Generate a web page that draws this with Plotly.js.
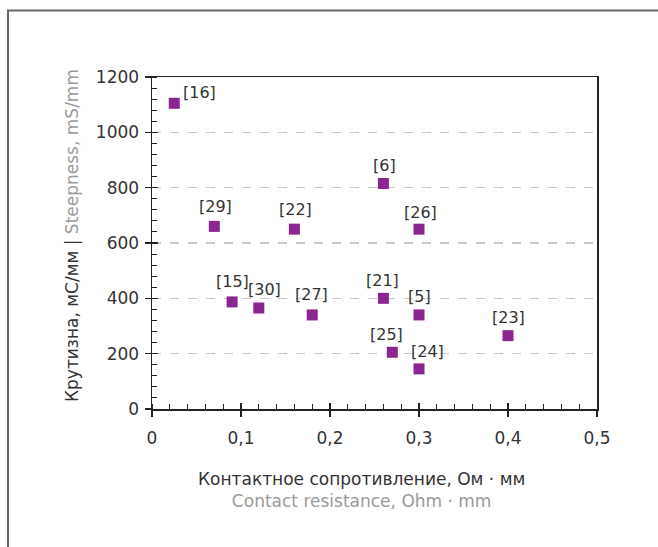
<!DOCTYPE html>
<html>
<head>
<meta charset="utf-8">
<script src="https://cdn.plot.ly/plotly-3.0.1.min.js"></script>
<style>html,body{margin:0;padding:0;background:#fff;}#chart{width:658px;height:547px;}</style>
</head>
<body>
<div id="chart"></div>
<script>
// Data
const refLabels = ['[16]','[29]','[22]','[6]','[26]','[15]','[30]','[27]','[21]','[5]','[25]','[24]','[23]'];
const resistance = [0.025,0.07,0.16,0.26,0.30,0.09,0.12,0.18,0.26,0.30,0.27,0.30,0.40];
const steepness  = [1105,660,650,815,650,387,365,340,400,340,205,145,265];
const xTickVals = [0,0.1,0.2,0.3,0.4,0.5];
const xTickText = ['0','0,1','0,2','0,3','0,4','0,5'];

// Label placement (style)
const labelShift = {
  '[16]':[25,11],'[29]':[1,20],'[22]':[1,20],'[6]':[1,18],'[26]':[1,17],
  '[15]':[0,20],'[30]':[6,19],'[27]':[-1,20],'[21]':[-1,18],'[5]':[0,18],
  '[25]':[-6,18],'[24]':[8,17],'[23]':[0,18]
};

const FONT = 'DejaVu Sans, sans-serif';
const DARK = '#333333';
const GREY = '#9a9a9a';

const L=152, R=61, T=77, B=138, W=658, H=547;
const pw=W-L-R, ph=H-T-B;
const px = v => (v-L)/pw;
const py = v => (H-B-v)/ph;

const annotations = refLabels.map((t,i)=>({
  x: resistance[i], y: steepness[i], xref:'x', yref:'y', text:t, showarrow:false,
  xshift: labelShift[t][0], yshift: labelShift[t][1],
  font:{family:FONT, size:16, color:DARK}
}));
annotations.push({
  xref:'paper', yref:'paper', x:px(361), y:py(490), xanchor:'center', yanchor:'middle', showarrow:false,
  text:'Контактное сопротивление, Ом · мм<br><span style="color:'+GREY+'">Contact resistance, Ohm · mm</span>',
  font:{family:FONT, size:17, color:DARK}, align:'center'
});
annotations.push({
  xref:'paper', yref:'paper', x:px(72), y:py(236), xanchor:'center', yanchor:'middle', showarrow:false, textangle:-90,
  text:'Крутизна, мС/мм | <span style="color:'+GREY+'">Steepness, mS/mm</span>',
  font:{family:FONT, size:17, color:DARK}
});

const trace = {
  x: resistance, y: steepness, type:'scatter', mode:'markers',
  marker:{symbol:'square', size:11, color:'#8b2590'},
  hoverinfo:'none'
};
// invisible helper traces so the inner-tick overlay axes are drawn
const helperX = {x:[0], y:[0], xaxis:'x2', yaxis:'y', type:'scatter', mode:'none', hoverinfo:'none'};
const helperY = {x:[0], y:[0], xaxis:'x', yaxis:'y2', type:'scatter', mode:'none', hoverinfo:'none'};

const axLine = {showline:true, linecolor:'#222', linewidth:1.5, zeroline:false, fixedrange:true};

const layout = {
  width:W, height:H, margin:{l:L,r:R,t:T,b:B}, showlegend:false,
  paper_bgcolor:'#fff', plot_bgcolor:'#fff', separators:', ',
  font:{family:FONT, color:DARK, size:16},
  xaxis:Object.assign({range:[0,0.5], tickvals:xTickVals, ticktext:xTickText, showgrid:false, mirror:true,
    ticks:'outside', ticklen:6, tickwidth:1.5, tickcolor:'#222',
    minor:{dtick:0.02, ticks:'inside', ticklen:5, tickwidth:1, tickcolor:'#222', showgrid:false},
    tickfont:{family:FONT, size:17, color:DARK}, ticklabelstandoff:7}, axLine),
  xaxis2:{overlaying:'x', side:'bottom', range:[0,0.5], tickvals:xTickVals, showticklabels:false, showgrid:false,
    zeroline:false, showline:false, ticks:'inside', ticklen:6, tickwidth:1.5, tickcolor:'#222', fixedrange:true},
  yaxis:Object.assign({range:[0,1200], dtick:200, showgrid:true, gridcolor:'#c8c8c8', griddash:'dash', gridwidth:1.2,
    mirror:true, ticks:'outside', ticklen:6, tickwidth:1.5, tickcolor:'#222',
    minor:{dtick:40, ticks:'inside', ticklen:5, tickwidth:1, tickcolor:'#222', showgrid:false},
    tickfont:{family:FONT, size:17, color:DARK}, ticklabelstandoff:2}, axLine),
  yaxis2:{overlaying:'y', side:'left', range:[0,1200], dtick:200, showticklabels:false, showgrid:false,
    zeroline:false, showline:false, ticks:'inside', ticklen:6, tickwidth:1.5, tickcolor:'#222', fixedrange:true},
  annotations: annotations,
  shapes:[
    {type:'line', xref:'paper', yref:'paper', x0:px(7), x1:px(660), y0:py(10.5), y1:py(10.5), line:{color:'#666', width:2}},
    {type:'line', xref:'paper', yref:'paper', x0:px(8), x1:px(8), y0:py(10), y1:py(548), line:{color:'#666', width:2}}
  ]
};

Plotly.newPlot('chart',[trace, helperX, helperY],layout,{displayModeBar:false, staticPlot:true});
</script>
</body>
</html>
